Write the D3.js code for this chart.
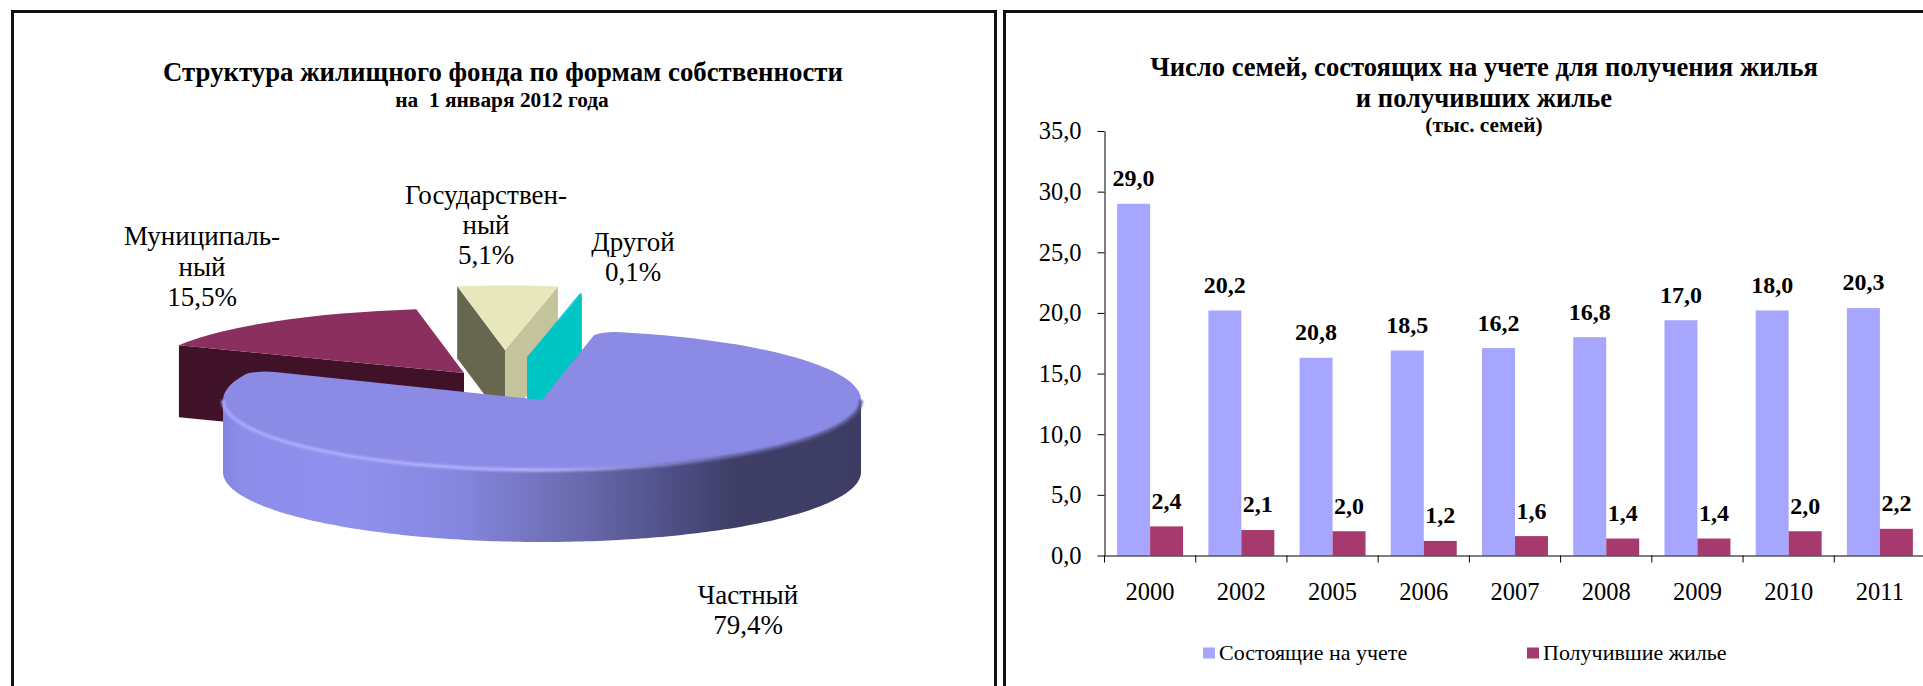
<!DOCTYPE html>
<html>
<head>
<meta charset="utf-8">
<script src="https://cdn.jsdelivr.net/npm/d3@7"></script>
<style>
    html, body { margin: 0; padding: 0; background: #fff; overflow: hidden; }
    text { font-family: "Liberation Serif", "Times New Roman", serif; fill: #000; }
</style>
</head>
<body>
<svg id="chart" width="1923" height="686"></svg>
<script>
// pie data
var pieNames = ["Частный", "Муниципальный", "Государственный", "Другой"];
var pieValues = [79.4, 15.5, 5.1, 0.1];

// bar data
var years = ["2000", "2002", "2005", "2006", "2007", "2008", "2009", "2010", "2011"];
var seriesNames = ["Состоящие на учете", "Получившие жилье"];
var registered = [29.0, 20.2, 16.3, 16.9, 17.1, 18.0, 19.4, 20.2, 20.4];
var housed = [2.4, 2.1, 2.0, 1.2, 1.6, 1.4, 1.4, 2.0, 2.2];
// the printed labels do not always agree with the bar heights, keep them as printed
var registeredLabels = ["29,0", "20,2", "20,8", "18,5", "16,2", "16,8", "17,0", "18,0", "20,3"];
var housedLabels = ["2,4", "2,1", "2,0", "1,2", "1,6", "1,4", "1,4", "2,0", "2,2"];
var yTicks = [0, 5, 10, 15, 20, 25, 30, 35];

var svg = d3.select("#chart");
var defs = svg.append("defs");

// panel frames
svg.append("rect").attr("x", 12.5).attr("y", 11.5).attr("width", 983).attr("height", 800)
    .attr("fill", "none").attr("stroke", "#111").attr("stroke-width", 3);
svg.append("rect").attr("x", 1004.5).attr("y", 11.5).attr("width", 1000).attr("height", 800)
    .attr("fill", "none").attr("stroke", "#111").attr("stroke-width", 3);

function addText(x, y, str, size, bold) {
    return svg.append("text")
        .attr("x", x).attr("y", y).attr("dy", "0.33em")
        .attr("text-anchor", "middle")
        .attr("font-size", size)
        .attr("font-weight", bold ? "bold" : "normal")
        .text(str);
}

// ---- left chart: pie ----
addText(503, 72, "Структура жилищного фонда по формам собственности", 26.8, true);
addText(502, 100, "на  1 января 2012 года", 21.4, true).style("white-space", "pre");

var cx = 542, cy = 400, rx = 319, ry = 70, depth = 72;
var explodedRx = 316, explodedRy = 64.5;

var pieColors = ["#8b8be6", "#8b2f5e", "#e8e6bb", "#00c5c5"];
// which cut faces of a slice can be seen from the front
var pieFaces = [
    [],
    [{edge: "start", color: "#3f1228"}],
    [{edge: "start", color: "#67664f"}, {edge: "end", color: "#c4c49c"}],
    [{edge: "end", color: "#00c5c5"}]
];
// slice apex, main slice stays at the centre
var pieApex = [[cx, cy], [464, 373], [505, 350], [527, 357]];

var pieData = d3.pie().sort(null)
    .startAngle(10 * Math.PI / 180)
    .endAngle(370 * Math.PI / 180)(pieValues);

var unitArc = d3.arc().innerRadius(0).outerRadius(1);
var mainArc = d3.arc().innerRadius(0).outerRadius(1).cornerRadius(0.07);
var polyLine = d3.line();

// exploded slices first, the big one is painted over them
[1, 2, 3].forEach(function(i) {
    var d = pieData[i], ax = pieApex[i][0], ay = pieApex[i][1];
    pieFaces[i].forEach(function(face) {
        var a = face.edge == "start" ? d.startAngle : d.endAngle;
        var ox = ax + explodedRx * Math.sin(a), oy = ay - explodedRy * Math.cos(a);
        svg.append("path")
            .attr("d", polyLine([[ox, oy], [ax, ay], [ax, ay + depth], [ox, oy + depth]]) + "Z")
            .attr("fill", face.color);
    });
    svg.append("path")
        .attr("d", unitArc(d))
        .attr("transform", "translate(" + ax + "," + ay + ") scale(" + explodedRx + "," + explodedRy + ")")
        .attr("fill", pieColors[i]);
});

// side of the main slice
var sideGrad = defs.append("linearGradient").attr("id", "sideGrad")
    .attr("gradientUnits", "userSpaceOnUse")
    .attr("x1", cx - rx).attr("x2", cx + rx).attr("y1", 0).attr("y2", 0);
[[0, "#8384de"], [0.03, "#8c8dea"], [0.2, "#9091ee"], [0.38, "#8485dc"], [0.55, "#6b6bb0"],
    [0.72, "#4c4c82"], [0.8, "#3e3e67"], [1, "#3c3c64"]].forEach(function(s) {
    sideGrad.append("stop").attr("offset", s[0]).attr("stop-color", s[1]);
});
var rimGrad = defs.append("linearGradient").attr("id", "rimGrad")
    .attr("gradientUnits", "userSpaceOnUse")
    .attr("x1", cx - rx).attr("x2", cx + rx).attr("y1", 0).attr("y2", 0);
[[0, "#a8a8fc"], [0.5, "#b0b0fc"], [0.62, "#9292dc"], [0.8, "#5c5c98"], [1, "#55558c"]].forEach(function(s) {
    rimGrad.append("stop").attr("offset", s[0]).attr("stop-color", s[1]);
});
defs.append("filter").attr("id", "rimBlur")
    .attr("x", "-5%").attr("y", "-20%").attr("width", "110%").attr("height", "140%")
    .append("feGaussianBlur").attr("stdDeviation", 0.9);

var frontAngles = d3.range(90, 270.5, 1).map(function(a) { return a * Math.PI / 180; });
var frontEdge = frontAngles.map(function(a) {
    return [cx + rx * Math.sin(a), cy - ry * Math.cos(a)];
});
var frontBottom = frontEdge.map(function(p) { return [p[0], p[1] + depth]; }).reverse();

svg.append("path")
    .attr("d", polyLine(frontEdge.concat(frontBottom)) + "Z")
    .attr("fill", "url(#sideGrad)");

// top of the main slice
svg.append("path")
    .attr("d", mainArc(pieData[0]))
    .attr("transform", "translate(" + cx + "," + cy + ") scale(" + rx + "," + ry + ")")
    .attr("fill", pieColors[0]);

// soft rim along the front edge
svg.append("path")
    .attr("d", polyLine(frontEdge))
    .attr("fill", "none")
    .attr("stroke", "url(#rimGrad)")
    .attr("stroke-width", 3.5)
    .attr("filter", "url(#rimBlur)");

// slice labels
[
    {x: 748, y: [595, 625.5], lines: ["Частный", "79,4%"]},
    {x: 202, y: [236, 267, 297], lines: ["Муниципаль-", "ный", "15,5%"]},
    {x: 486, y: [195, 225, 255], lines: ["Государствен-", "ный", "5,1%"]},
    {x: 633, y: [242, 272.5], lines: ["Другой", "0,1%"]}
].forEach(function(l) {
    l.lines.forEach(function(s, i) { addText(l.x, l.y[i], s, 27, false); });
});

// ---- right chart: bars ----
addText(1484, 67, "Число семей, состоящих на учете для получения жилья", 26.6, true);
addText(1484, 98, "и получивших жилье", 26.6, true);
addText(1484, 124.7, "(тыс. семей)", 21.4, true);

var margin = {left: 1104.5, top: 131, bottom: 555.5};

var x0 = d3.scaleBand().domain(years)
    .range([margin.left, margin.left + 821])
    .paddingInner(0.277).paddingOuter(0.1385);
var x1 = d3.scaleBand().domain(seriesNames).range([0, x0.bandwidth()]);
var y = d3.scaleLinear().domain([0, 35]).range([margin.bottom, margin.top]);

var seriesColors = ["#a6a6ff", "#a63a6e"];
var seriesValues = [registered, housed];
var seriesLabels = [registeredLabels, housedLabels];

seriesNames.forEach(function(name, s) {
    svg.append("g").selectAll("rect")
        .data(seriesValues[s])
        .enter()
        .append("rect")
        .attr("x", function(d, i) { return x0(years[i]) + x1(name); })
        .attr("y", function(d) { return y(d); })
        .attr("width", x1.bandwidth())
        .attr("height", function(d) { return y(0) - y(d); })
        .attr("fill", seriesColors[s]);

    svg.append("g").selectAll("text")
        .data(seriesValues[s])
        .enter()
        .append("text")
        .attr("x", function(d, i) { return x0(years[i]) + x1(name) + x1.bandwidth() / 2; })
        .attr("y", function(d) { return y(d) - 25.5; })
        .attr("dy", "0.33em")
        .attr("text-anchor", "middle")
        .attr("font-size", 24)
        .attr("font-weight", "bold")
        .text(function(d, i) { return seriesLabels[s][i]; });
});

// y axis
var yAxis = svg.append("g")
    .attr("transform", "translate(" + margin.left + ",0)")
    .call(d3.axisLeft(y).tickValues(yTicks).tickSize(7).tickSizeOuter(0).tickPadding(16)
        .tickFormat(function(d) { return d.toFixed(1).replace(".", ","); }));

// x axis, labels at band centres and tick marks between the bands
var xAxis = svg.append("g")
    .attr("transform", "translate(0," + margin.bottom + ")")
    .call(d3.axisBottom(x0).tickSize(0).tickSizeOuter(0).tickPadding(27));
xAxis.selectAll(".boundary")
    .data(d3.range(years.length))
    .enter()
    .append("line")
    .attr("class", "boundary")
    .attr("x1", function(i) { return margin.left + i * x0.step(); })
    .attr("x2", function(i) { return margin.left + i * x0.step(); })
    .attr("y1", 0)
    .attr("y2", 7)
    .attr("stroke", "#000");

[yAxis, xAxis].forEach(function(a) {
    a.attr("font-family", null).attr("font-size", null);
    a.selectAll("text").attr("font-size", 24.5);
    a.selectAll(".domain").attr("stroke", "#000");
});

// legend
var legendX = [1203, 1527];
seriesNames.forEach(function(name, s) {
    svg.append("rect")
        .attr("x", legendX[s]).attr("y", 647.5)
        .attr("width", 12).attr("height", 11)
        .attr("fill", seriesColors[s]);
    svg.append("text")
        .attr("x", legendX[s] + 16).attr("y", 653).attr("dy", "0.33em")
        .attr("font-size", 22)
        .text(name);
});
</script>
</body>
</html>
